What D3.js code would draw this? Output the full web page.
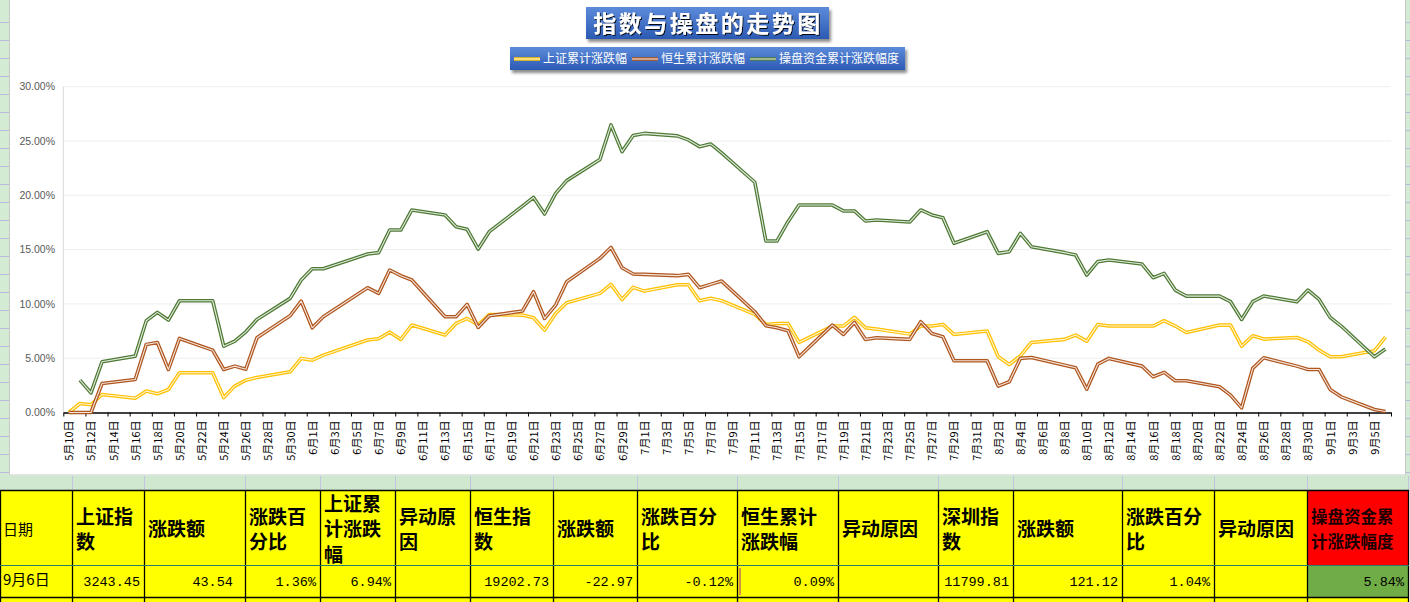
<!DOCTYPE html>
<html>
<head>
<meta charset="utf-8">
<script src="https://cdn.jsdelivr.net/npm/d3@7"></script>
<style>
body { margin: 0; background: #fff; overflow: hidden; }
svg { display: block; font-family: "Noto Sans CJK SC", sans-serif; }
</style>
</head>
<body>
<div id="chart-area"></div>
<script>
/* 指数与操盘的走势图 */

// trading days, 2022
var tradeDays = [
    "2022-05-10", "2022-05-11", "2022-05-12", "2022-05-13", "2022-05-16", "2022-05-17", "2022-05-18", "2022-05-19",
    "2022-05-20", "2022-05-23", "2022-05-24", "2022-05-25", "2022-05-26", "2022-05-27", "2022-05-30", "2022-05-31",
    "2022-06-01", "2022-06-02", "2022-06-06", "2022-06-07", "2022-06-08", "2022-06-09", "2022-06-10", "2022-06-13",
    "2022-06-14", "2022-06-15", "2022-06-16", "2022-06-17", "2022-06-20", "2022-06-21", "2022-06-22", "2022-06-23",
    "2022-06-24", "2022-06-27", "2022-06-28", "2022-06-29", "2022-06-30",
    "2022-07-01", "2022-07-04", "2022-07-05", "2022-07-06", "2022-07-07", "2022-07-08", "2022-07-11", "2022-07-12",
    "2022-07-13", "2022-07-14", "2022-07-15", "2022-07-18", "2022-07-19", "2022-07-20", "2022-07-21", "2022-07-22",
    "2022-07-25", "2022-07-26", "2022-07-27", "2022-07-28", "2022-07-29",
    "2022-08-01", "2022-08-02", "2022-08-03", "2022-08-04", "2022-08-05", "2022-08-08", "2022-08-09", "2022-08-10",
    "2022-08-11", "2022-08-12", "2022-08-15", "2022-08-16", "2022-08-17", "2022-08-18", "2022-08-19", "2022-08-22",
    "2022-08-23", "2022-08-24", "2022-08-25", "2022-08-26", "2022-08-29", "2022-08-30", "2022-08-31",
    "2022-09-01", "2022-09-02", "2022-09-05", "2022-09-06"
];

// 上证累计涨跌幅 (%)
var shCum = [
    0, 0.83, 0.71, 1.66, 1.32, 1.97, 1.72, 2.12, 3.66, 3.66, 1.38, 2.43, 2.98, 3.23, 3.75, 4.98,
    4.82, 5.28, 6.67, 6.79, 7.40, 6.73, 8.05, 7.13, 8.20, 8.66, 8.05, 9.03, 8.97, 8.72, 7.59, 9.12,
    10.11, 10.97, 11.80, 10.41, 11.52,
    11.18, 11.77, 11.77, 10.29, 10.51, 10.30, 9.03, 8.11, 8.20, 8.20, 6.45, 7.96, 7.96, 8.76, 7.80,
    7.68, 7.22, 7.96, 7.96, 8.11, 7.19,
    7.50, 5.13, 4.42, 5.22, 6.45, 6.73, 7.13, 6.57, 8.11, 7.96, 7.96, 7.96, 8.45, 7.96, 7.37, 8.05,
    8.05, 6.11, 7.07, 6.76, 6.91, 6.51, 5.74,
    5.13, 5.13, 5.68, 6.94
];

// 恒生累计涨跌幅 (%)
var hsCum = [
    0, 0, 0, 2.67, 3.04, 6.27, 6.45, 3.96, 6.82, 5.74, 3.96, 4.27, 3.99, 6.88, 8.91, 10.26,
    7.80, 8.82, 11.49, 10.97, 13.12, 12.60, 12.20, 8.82, 8.82, 9.95, 7.83, 8.91, 9.34, 11.12, 8.66, 9.89,
    12.04, 14.19, 15.20, 13.33, 12.75,
    12.72, 12.60, 12.72, 11.49, 11.80, 12.10, 9.28, 7.99, 7.80, 7.53, 5.13, 8.05, 7.19, 8.29, 6.73,
    6.88, 6.73, 8.36, 7.28, 6.97, 4.76,
    4.76, 2.43, 2.83, 4.98, 5.07, 4.36, 4.12, 2.15, 4.45, 4.98, 4.27, 3.29, 3.69, 2.92, 2.92, 2.37,
    1.60, 0.43, 4.06, 5.04, 4.27, 3.96, 3.96,
    2.12, 1.44, 0.28, 0.09
];

// 操盘资金累计涨跌幅度 (%)
var fundCum = [
    null, 2.98, 1.81, 4.67, 5.19, 8.45, 9.22, 8.51, 10.29, 10.29, 6.11, 6.57, 7.43, 8.57, 10.51, 12.20,
    13.24, 13.24, 14.59, 14.72, 16.80, 16.80, 18.65, 18.19, 17.11, 16.87, 15.05, 16.65, 19.00, 19.80, 18.28, 20.18,
    21.35, 23.30, 26.48, 24.02, 25.50,
    25.70, 25.47, 25.10, 24.48, 24.73, 23.90, 21.20, 15.79, 15.79, 17.57, 19.10, 19.10, 18.56, 18.56, 17.63,
    17.73, 17.54, 18.65, 18.19, 17.94, 15.58,
    16.65, 14.65, 14.81, 16.50, 15.27, 14.72, 14.50, 12.66, 13.89, 14.04, 13.67, 12.41, 12.81, 11.27, 10.72, 10.72,
    10.20, 8.57, 10.20, 10.72, 10.20, 11.27, 10.41,
    8.76, 7.96, 5.13, 5.84
];

var seriesNames = ["上证累计涨跌幅", "恒生累计涨跌幅", "操盘资金累计涨跌幅度"];
var yTicks = [0, 5, 10, 15, 20, 25, 30];

// table below the chart
var headerCells = ["日期", "上证指\n数", "涨跌额", "涨跌百\n分比", "上证累\n计涨跌\n幅", "异动原\n因",
    "恒生指\n数", "涨跌额", "涨跌百分\n比", "恒生累计\n涨跌幅", "异动原因", "深圳指\n数", "涨跌额",
    "涨跌百分\n比", "异动原因", "操盘资金累\n计涨跌幅度"];
var rowSep6 = ["9月6日", "3243.45", "43.54 ", "1.36%", "6.94%", "", "19202.73", "-22.97", "-0.12%", "0.09%", "",
    "11799.81", "121.12", "1.04%", "", "5.84%"];

// layout
var W = 1410, H = 602;
var colEdges = [0, 72, 144, 245, 320, 395, 470, 553, 637, 737, 838, 938, 1013, 1122, 1214, 1307, 1408];
var colors = ["#ffc000", "#b0561e", "#4e7a34"];
var plot = { left: 63.3, right: 1391, top: 86.7, bottom: 412.5 };

var svg = d3.select("#chart-area")
    .append("svg")
    .attr("width", W)
    .attr("height", H);

var defs = svg.append("defs");
var grad = defs.append("linearGradient").attr("id", "boxGrad")
    .attr("x1", 0).attr("y1", 0).attr("x2", 0).attr("y2", 1);
grad.append("stop").attr("offset", "0%").attr("stop-color", "#5d8bdb");
grad.append("stop").attr("offset", "100%").attr("stop-color", "#2b5ab3");
defs.append("filter").attr("id", "boxShadow")
    .attr("x", "-10%").attr("y", "-30%").attr("width", "120%").attr("height", "170%")
    .append("feDropShadow")
    .attr("dx", 2).attr("dy", 3).attr("stdDeviation", 1.6)
    .attr("flood-color", "#000").attr("flood-opacity", 0.45);
defs.append("filter").attr("id", "textShadow")
    .append("feDropShadow")
    .attr("dx", 1).attr("dy", 1).attr("stdDeviation", 0.5)
    .attr("flood-color", "#000").attr("flood-opacity", 0.9);

// spreadsheet background
svg.append("rect").attr("width", W).attr("height", H).attr("fill", "#fff");
svg.append("rect").attr("x", 0).attr("y", 0).attr("width", 9).attr("height", 476).attr("fill", "#d3ead3");
svg.append("rect").attr("x", 1406).attr("y", 0).attr("width", 4).attr("height", 476).attr("fill", "#d3ead3");
svg.append("g").selectAll("line")
    .data(d3.range(22.5, 476, 18))
    .enter().append("line")
    .attr("x1", 0).attr("x2", W)
    .attr("y1", d => d).attr("y2", d => d)
    .attr("stroke", "#b9b9de").attr("stroke-width", 1);
svg.append("rect").attr("x", 9.5).attr("y", -1).attr("width", 1396).attr("height", 476)
    .attr("fill", "#fff").attr("stroke", "#c8c8c8");
svg.append("rect").attr("x", 0).attr("y", 475.5).attr("width", W).attr("height", 15).attr("fill", "#cfe8cf");
svg.append("g").selectAll("line")
    .data(colEdges.slice(1))
    .enter().append("line")
    .attr("x1", d => d + 0.5).attr("x2", d => d + 0.5)
    .attr("y1", 476).attr("y2", 490)
    .attr("stroke", "#c3c3e2");

// scales
var parseDay = d3.timeParse("%Y-%m-%d");
var days = tradeDays.map(parseDay);
var start = days[0];
var end = d3.timeDay.offset(days[days.length - 1], 1);

var x = d3.scaleTime().domain([start, end]).range([plot.left, plot.right]);
var y = d3.scaleLinear().domain([0, 30]).range([plot.bottom, plot.top]);

var g = svg.append("g");

// gridlines
g.selectAll(".grid")
    .data(yTicks.slice(1))
    .enter().append("line")
    .attr("x1", plot.left).attr("x2", plot.right)
    .attr("y1", d => y(d)).attr("y2", d => y(d))
    .attr("stroke", "#eeeeee").attr("stroke-width", 1);

// y axis
g.append("line")
    .attr("x1", plot.left).attr("x2", plot.left)
    .attr("y1", plot.top).attr("y2", plot.bottom)
    .attr("stroke", "#d9d9d9");
g.selectAll(".ylab")
    .data(yTicks)
    .enter().append("text")
    .attr("x", 55).attr("y", d => y(d)).attr("dy", "0.35em")
    .attr("text-anchor", "end")
    .style("font-family", "'Liberation Sans', Arial, sans-serif")
    .style("font-size", "10.5px")
    .attr("fill", "#595959")
    .text(d => d.toFixed(2) + "%");

// x axis: ticks every 2 days on slot edges, labels in day centers
var tickDays = d3.timeDay.range(start, d3.timeDay.offset(end, 1), 2);
var labelDays = d3.timeDay.range(start, end, 2).map(d => d3.timeHour.offset(d, 12));
var dateFmt = d => (d.getMonth() + 1) + "月" + d.getDate() + "日";

var xTicks = g.append("g")
    .attr("transform", "translate(0," + plot.bottom + ")")
    .call(d3.axisBottom(x).tickValues(tickDays).tickSize(4).tickSizeOuter(0).tickFormat(""));
xTicks.select(".domain").attr("stroke", "#000").attr("stroke-width", 1.3);
xTicks.selectAll(".tick line").attr("stroke", "#000");

var xLabels = g.append("g")
    .attr("transform", "translate(0," + plot.bottom + ")")
    .call(d3.axisBottom(x).tickValues(labelDays).tickSize(0).tickFormat(dateFmt));
xLabels.select(".domain").remove();
xLabels.selectAll("text")
    .attr("transform", "rotate(-90)")
    .attr("x", -8).attr("y", 0).attr("dy", "0.36em")
    .style("text-anchor", "end")
    .style("font-family", "'Noto Sans CJK SC', sans-serif")
    .style("font-size", "11px")
    .attr("fill", "#000");

// lines, drawn as double lines
var allSeries = [shCum, hsCum, fundCum];
var line = d3.line()
    .defined(d => d.v != null)
    .x(d => x(d3.timeHour.offset(d.day, 12)))
    .y(d => y(d.v));

allSeries.forEach(function(vals, i) {
    var pts = vals.map((v, j) => ({ day: days[j], v: v }));
    g.append("path").datum(pts)
        .attr("d", line)
        .attr("fill", "none")
        .attr("stroke", colors[i])
        .attr("stroke-width", 3.6)
        .attr("stroke-linejoin", "round");
    g.append("path").datum(pts)
        .attr("d", line)
        .attr("fill", "none")
        .attr("stroke", "#fff")
        .attr("stroke-opacity", 0.85)
        .attr("stroke-width", 1.1)
        .attr("stroke-linejoin", "round");
});

// title
svg.append("rect")
    .attr("x", 586).attr("y", 7).attr("width", 243).attr("height", 32)
    .attr("fill", "url(#boxGrad)").attr("filter", "url(#boxShadow)");
svg.append("text")
    .attr("x", 708).attr("y", 23.5).attr("dy", "0.36em")
    .attr("text-anchor", "middle")
    .style("font-size", "23px").style("font-weight", "700")
    .style("letter-spacing", "2.5px")
    .attr("fill", "#fff").attr("filter", "url(#textShadow)")
    .text("指数与操盘的走势图");

// legend
var legend = svg.append("g");
var legendBox = legend.append("rect")
    .attr("x", 510).attr("y", 47).attr("height", 23)
    .attr("fill", "url(#boxGrad)").attr("filter", "url(#boxShadow)");
var lx = 514;
seriesNames.forEach(function(name, i) {
    var item = legend.append("g").attr("transform", "translate(" + lx + ",59)");
    item.append("line").attr("x1", 0).attr("x2", 26)
        .attr("stroke", colors[i]).attr("stroke-width", 3.6);
    item.append("line").attr("x1", 0).attr("x2", 26)
        .attr("stroke", "#fff").attr("stroke-opacity", 0.85).attr("stroke-width", 1.1);
    var t = item.append("text")
        .attr("x", 29).attr("dy", "0.36em")
        .style("font-size", "12px")
        .attr("fill", "#fff")
        .text(name);
    lx += 29 + t.node().getComputedTextLength() + 5;
});
legendBox.attr("width", lx - 510 + 1);

// table
var table = svg.append("g");
var rowTops = [490, 565, 597];
var rowHeights = [75, 32, 32];

function cellFill(r, c) {
    if (c === 15 && r === 0) return "#ff0000";
    if (c === 15 && r === 1) return "#70ad47";
    return "#ffff00";
}

rowTops.forEach(function(top, r) {
    headerCells.forEach(function(txt, c) {
        var x0 = colEdges[c], x1 = colEdges[c + 1];
        table.append("rect")
            .attr("x", x0).attr("y", top)
            .attr("width", x1 - x0).attr("height", rowHeights[r])
            .attr("fill", cellFill(r, c));
    });
});

// header text
headerCells.forEach(function(txt, c) {
    var lines = txt.split("\n");
    var lh = 25.5;
    var cy = 529.5 - (lines.length - 1) * lh / 2;
    var t = table.append("text")
        .attr("x", colEdges[c] + 4)
        .attr("fill", c === 15 ? "#1a0000" : "#000")
        .style("font-size", c === 0 ? "15px" : (c === 15 ? "16.5px" : "19px"))
        .style("font-weight", c === 0 ? "400" : "700");
    lines.forEach(function(l, k) {
        t.append("tspan")
            .attr("x", colEdges[c] + (c === 0 ? 3 : 4))
            .attr("y", cy + k * lh).attr("dy", "0.36em")
            .text(l);
    });
});

// data row
var cy = rowTops[1] + rowHeights[1] / 2;
rowSep6.forEach(function(txt, c) {
    if (!txt) return;
    if (c === 0) {
        table.append("text")
            .attr("x", colEdges[c] + 3).attr("y", cy - 1).attr("dy", "0.36em")
            .style("font-size", "15px")
            .attr("fill", "#000")
            .text(txt);
    } else {
        table.append("text")
            .attr("x", colEdges[c + 1] - 4).attr("y", cy).attr("dy", "0.36em")
            .attr("text-anchor", "end")
            .style("font-family", "'Liberation Mono', 'DejaVu Sans Mono', monospace")
            .style("font-size", "13.5px")
            .style("white-space", "pre")
            .attr("fill", "#000")
            .text(txt);
    }
});

// grid borders
colEdges.forEach(function(cx) {
    table.append("line")
        .attr("x1", cx + 0.5).attr("x2", cx + 0.5)
        .attr("y1", 490).attr("y2", H)
        .attr("stroke", "#000").attr("stroke-width", 1.3);
});
[490, 597].forEach(function(ry) {
    table.append("line")
        .attr("x1", 0).attr("x2", 1409)
        .attr("y1", ry + 0.5).attr("y2", ry + 0.5)
        .attr("stroke", "#000").attr("stroke-width", 1.5);
});
table.append("line")
    .attr("x1", 0).attr("x2", 1409)
    .attr("y1", 565.5).attr("y2", 565.5)
    .attr("stroke", "#2a7d66").attr("stroke-width", 1.2);
// cursor mark in the 恒生累计 cell
table.append("line")
    .attr("x1", colEdges[9] + 3).attr("x2", colEdges[9] + 3)
    .attr("y1", 568).attr("y2", 595)
    .attr("stroke", "#b0208a").attr("stroke-width", 1);
</script>
</body>
</html>
